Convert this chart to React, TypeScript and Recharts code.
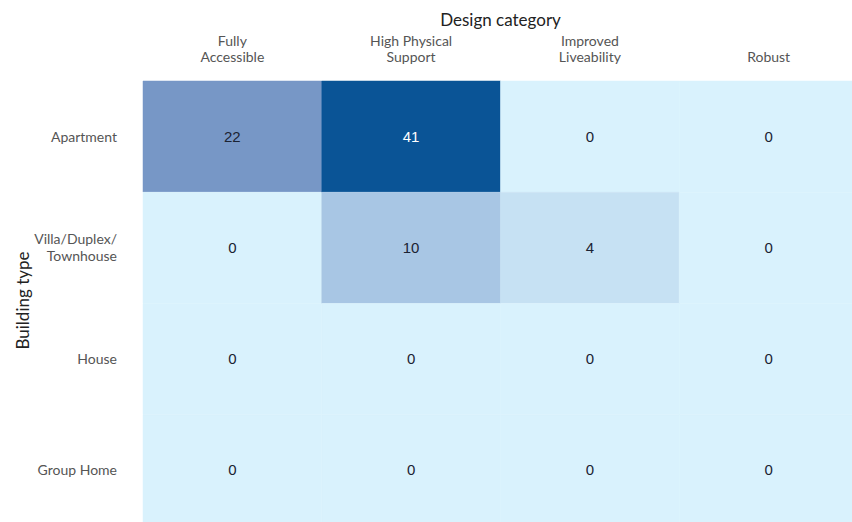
import { BarChart, Bar, XAxis, YAxis, Cell, LabelList } from "recharts";

const buildingTypes = ["Apartment", "Villa/Duplex/\nTownhouse", "House", "Group Home"];
const designCategories = ["Fully\nAccessible", "High Physical\nSupport", "Improved\nLiveability", "Robust"];

// counts per design category, one value per building type
const fullyAccessible = [22, 0, 0, 0];
const highPhysicalSupport = [41, 10, 0, 0];
const improvedLiveability = [0, 4, 0, 0];
const robust = [0, 0, 0, 0];

const seriesCounts = [fullyAccessible, highPhysicalSupport, improvedLiveability, robust];

// colour scale stops: [count, r, g, b]
const colorStops = [
  [0, 217, 242, 253],
  [4, 198, 225, 243],
  [10, 168, 198, 228],
  [22, 119, 151, 198],
  [41, 10, 84, 150],
];

const heatColor = (v: number) => {
  let i = 0;
  while (i < colorStops.length - 2 && v > colorStops[i + 1][0]) i++;
  const a = colorStops[i];
  const b = colorStops[i + 1];
  const t = Math.max(0, Math.min(1, (v - a[0]) / (b[0] - a[0])));
  const c = [1, 2, 3].map((k) => Math.round(a[k] + (b[k] - a[k]) * t));
  return `rgb(${c[0]},${c[1]},${c[2]})`;
};

const rows = buildingTypes.map((b, r) => {
  const row: any = { building: b };
  seriesCounts.forEach((s, c) => {
    row[`span${c}`] = 1;
    row[`count${c}`] = s[r];
  });
  return row;
});

const FONT = "Lato, 'Open Sans', sans-serif";

const XTick = (props: any) => {
  const { x, y, payload } = props;
  const idx = Math.round(payload.value - 0.5);
  const lines = (designCategories[idx] || "").split("\n");
  return (
    <text x={x} y={y} textAnchor="middle" fill="#555" fontSize={14} fontFamily={FONT}>
      {lines.map((l, i) => (
        <tspan key={i} x={x} dy={i === 0 ? -19 - (lines.length - 1) * 16 : 16}>
          {l}
        </tspan>
      ))}
    </text>
  );
};

const YTick = (props: any) => {
  const { x, y, payload } = props;
  const lines = String(payload.value).split("\n");
  const start = 5 - ((lines.length - 1) * 17) / 2;
  return (
    <text x={x} y={y} textAnchor="end" fill="#555" fontSize={14} fontFamily={FONT}>
      {lines.map((l, i) => (
        <tspan key={i} x={x} dy={i === 0 ? start : 17}>
          {l}
        </tspan>
      ))}
    </text>
  );
};

const valueLabel = (props: any) => {
  const { x, y, width, height, value } = props;
  return (
    <text
      x={x + width / 2}
      y={y + height / 2 + 5}
      textAnchor="middle"
      fontSize={15}
      fontFamily="'Liberation Sans', Arial, sans-serif"
      fill={value > 30 ? "#fff" : "#1b2333"}
    >
      {value}
    </text>
  );
};

export default function App() {
  return (
    <div style={{ position: "absolute", left: 0, top: 0, width: 852, height: 522, overflow: "hidden", background: "#fff" }}>
      <BarChart
        width={858}
        height={526}
        data={rows}
        layout="vertical"
        barCategoryGap={0}
        margin={{ top: 0, right: 0, bottom: 0, left: 0 }}
      >
        <XAxis
          type="number"
          orientation="top"
          domain={[0, 4]}
          ticks={[0.5, 1.5, 2.5, 3.5]}
          height={81}
          axisLine={false}
          tickLine={false}
          tickSize={0}
          tickMargin={0}
          tick={<XTick />}
          label={{
            content: ({ viewBox }: any) => (
              <text
                x={viewBox.x + viewBox.width / 2}
                y={viewBox.y + 26}
                textAnchor="middle"
                fontSize={17}
                fontFamily={FONT}
                fill="#222"
              >
                Design category
              </text>
            ),
          }}
        />
        <YAxis
          type="category"
          dataKey="building"
          width={143}
          axisLine={false}
          tickLine={false}
          tickSize={0}
          tickMargin={26}
          tick={<YTick />}
          label={{
            content: ({ viewBox }: any) => {
              const cx = viewBox.x + 22;
              const cy = viewBox.y + viewBox.height / 2 - 3;
              return (
                <text
                  x={cx}
                  y={cy}
                  textAnchor="middle"
                  dominantBaseline="central"
                  fontSize={17}
                  fontFamily={FONT}
                  fill="#222"
                  transform={`rotate(-90, ${cx}, ${cy})`}
                >
                  Building type
                </text>
              );
            },
          }}
        />
        {seriesCounts.map((s, c) => (
          <Bar key={c} dataKey={`span${c}`} stackId="grid" isAnimationActive={false}>
            {s.map((v, r) => (
              <Cell key={r} fill={heatColor(v)} stroke={heatColor(v)} strokeWidth={0.5} />
            ))}
            <LabelList dataKey={`count${c}`} content={valueLabel} />
          </Bar>
        ))}
      </BarChart>
    </div>
  );
}
